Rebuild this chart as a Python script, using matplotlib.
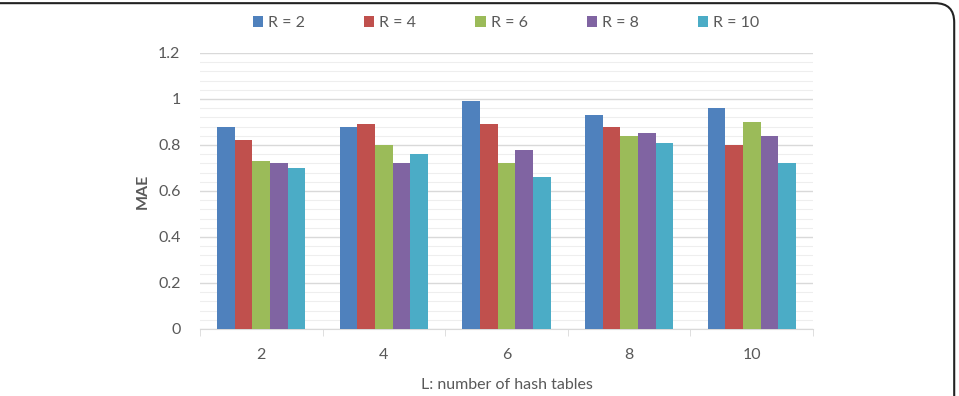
import numpy as np
import matplotlib
matplotlib.use("Agg")
import matplotlib.pyplot as plt
from matplotlib.patches import FancyBboxPatch

# data
L_values = ["2", "4", "6", "8", "10"]
series_names = ["R = 2", "R = 4", "R = 6", "R = 8", "R = 10"]
mae_r2 = [0.88, 0.88, 0.99, 0.93, 0.96]
mae_r4 = [0.82, 0.89, 0.89, 0.88, 0.80]
mae_r6 = [0.73, 0.80, 0.72, 0.84, 0.90]
mae_r8 = [0.72, 0.72, 0.78, 0.85, 0.84]
mae_r10 = [0.70, 0.76, 0.66, 0.81, 0.72]
colors = ["#4F81BD", "#C0504D", "#9BBB59", "#8064A2", "#4BACC6"]

plt.rcParams["font.family"] = ["Lato", "DejaVu Sans"]
TXT = "#595959"

fig = plt.figure(figsize=(9.59, 3.96), dpi=100)
ax = fig.add_axes([200 / 959, 1 - 329 / 396, 613 / 959, 276 / 396])

series = [mae_r2, mae_r4, mae_r6, mae_r8, mae_r10]
n = len(series)
x = np.arange(len(L_values))
bw = 0.72 / n
for i, (vals, name, c) in enumerate(zip(series, series_names, colors)):
    ax.bar(x - 0.36 + bw * (i + 0.5), vals, width=bw, color=c, label=name, zorder=3)

ax.set_xlim(-0.5, len(L_values) - 0.5)
ax.set_ylim(0, 1.2)
ax.set_yticks(np.arange(0, 1.21, 0.2))
ax.set_yticklabels(["0", "0.2", "0.4", "0.6", "0.8", "1", "1.2"])
ax.set_yticks(np.arange(0, 1.21, 0.04), minor=True)
ax.grid(axis="y", which="major", color="#D9D9D9", lw=1.0, zorder=0)
ax.grid(axis="y", which="minor", color="#EEEEEE", lw=0.8, zorder=0)
ax.tick_params(axis="y", which="both", length=0, labelsize=11.5, labelcolor=TXT, pad=14)

ax.set_xticks(x)
ax.set_xticklabels(L_values)
ax.set_xticks(np.arange(-0.5, len(L_values)), minor=True)
ax.tick_params(axis="x", which="major", length=0, labelsize=11.5, labelcolor=TXT, pad=14)
ax.tick_params(axis="x", which="minor", length=5, color="#D9D9D9")

for s in ["top", "right", "left"]:
    ax.spines[s].set_visible(False)
ax.spines["bottom"].set_color("#D9D9D9")

ax.set_ylabel("MAE", fontsize=11.5, fontweight="bold", color=TXT, labelpad=6)
ax.set_xlabel("L: number of hash tables", fontsize=11.5, color=TXT, labelpad=11)

ax.legend(loc="center", bbox_to_anchor=(506 / 959, 1 - 23 / 396), bbox_transform=fig.transFigure,
          ncol=5, frameon=False, fontsize=11.5, labelcolor=TXT, handlelength=0.65,
          handleheight=0.65, handletextpad=0.3, columnspacing=3.7)

frame = FancyBboxPatch((-0.02, -0.1), 1.015, 1.092, boxstyle="round,pad=0,rounding_size=0.02",
                       transform=fig.transFigure, fill=False, ec="#222222", lw=1.5,
                       mutation_aspect=959 / 396)
fig.patches.append(frame)

fig.savefig("out.png", dpi=100)
